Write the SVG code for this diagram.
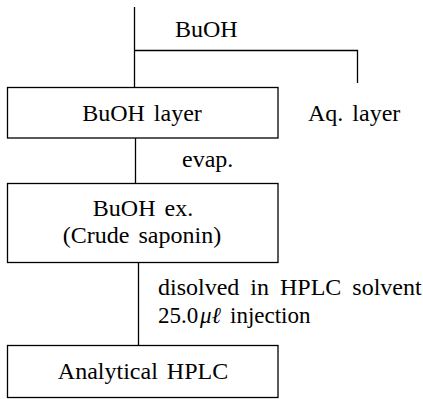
<svg xmlns="http://www.w3.org/2000/svg" width="423" height="399" viewBox="0 0 423 399">
<style>
.box{fill:#fff;stroke:#000;stroke-width:1.3}
.ln{fill:none;stroke:#000;stroke-width:1.3}
text{font-family:"Liberation Serif","Times New Roman",serif;font-size:24px;fill:#000;word-spacing:3px}
.c{text-anchor:middle}
.s{font-size:23px}
</style>
<rect width="423" height="399" fill="#fff"/>
<g id="connectors">
<path class="ln" d="M134.5 7V87M134.5 50.5H357.5V83"/>
<path class="ln" d="M135.5 138V183"/>
<path class="ln" d="M138.5 262V345"/>
</g>
<g id="label-buoh"><text x="175" y="37">BuOH</text></g>
<g id="node-buoh-layer">
<rect class="box" x="7.5" y="87.5" width="270.5" height="50.5"/>
<text class="c" x="142" y="121">BuOH layer</text>
</g>
<g id="node-aq-layer"><text x="308" y="121">Aq. layer</text></g>
<g id="label-evap"><text x="182" y="167">evap.</text></g>
<g id="node-buoh-ex">
<rect class="box" x="7.5" y="183.5" width="270.5" height="79"/>
<text class="c" x="143" y="216">BuOH ex.</text>
<text class="c" x="142" y="243">(Crude saponin)</text>
</g>
<g id="label-dissolve">
<text x="158" y="295" style="word-spacing:5px">disolved in HPLC solvent</text>
<text class="s" x="158" y="323">25.0</text>
<text class="s" x="200" y="323" font-style="italic">μℓ</text>
<text class="s" x="230" y="323">injection</text>
</g>
<g id="node-hplc">
<rect class="box" x="7.5" y="345.5" width="270.5" height="52"/>
<text class="c" x="143" y="379">Analytical HPLC</text>
</g>
</svg>
